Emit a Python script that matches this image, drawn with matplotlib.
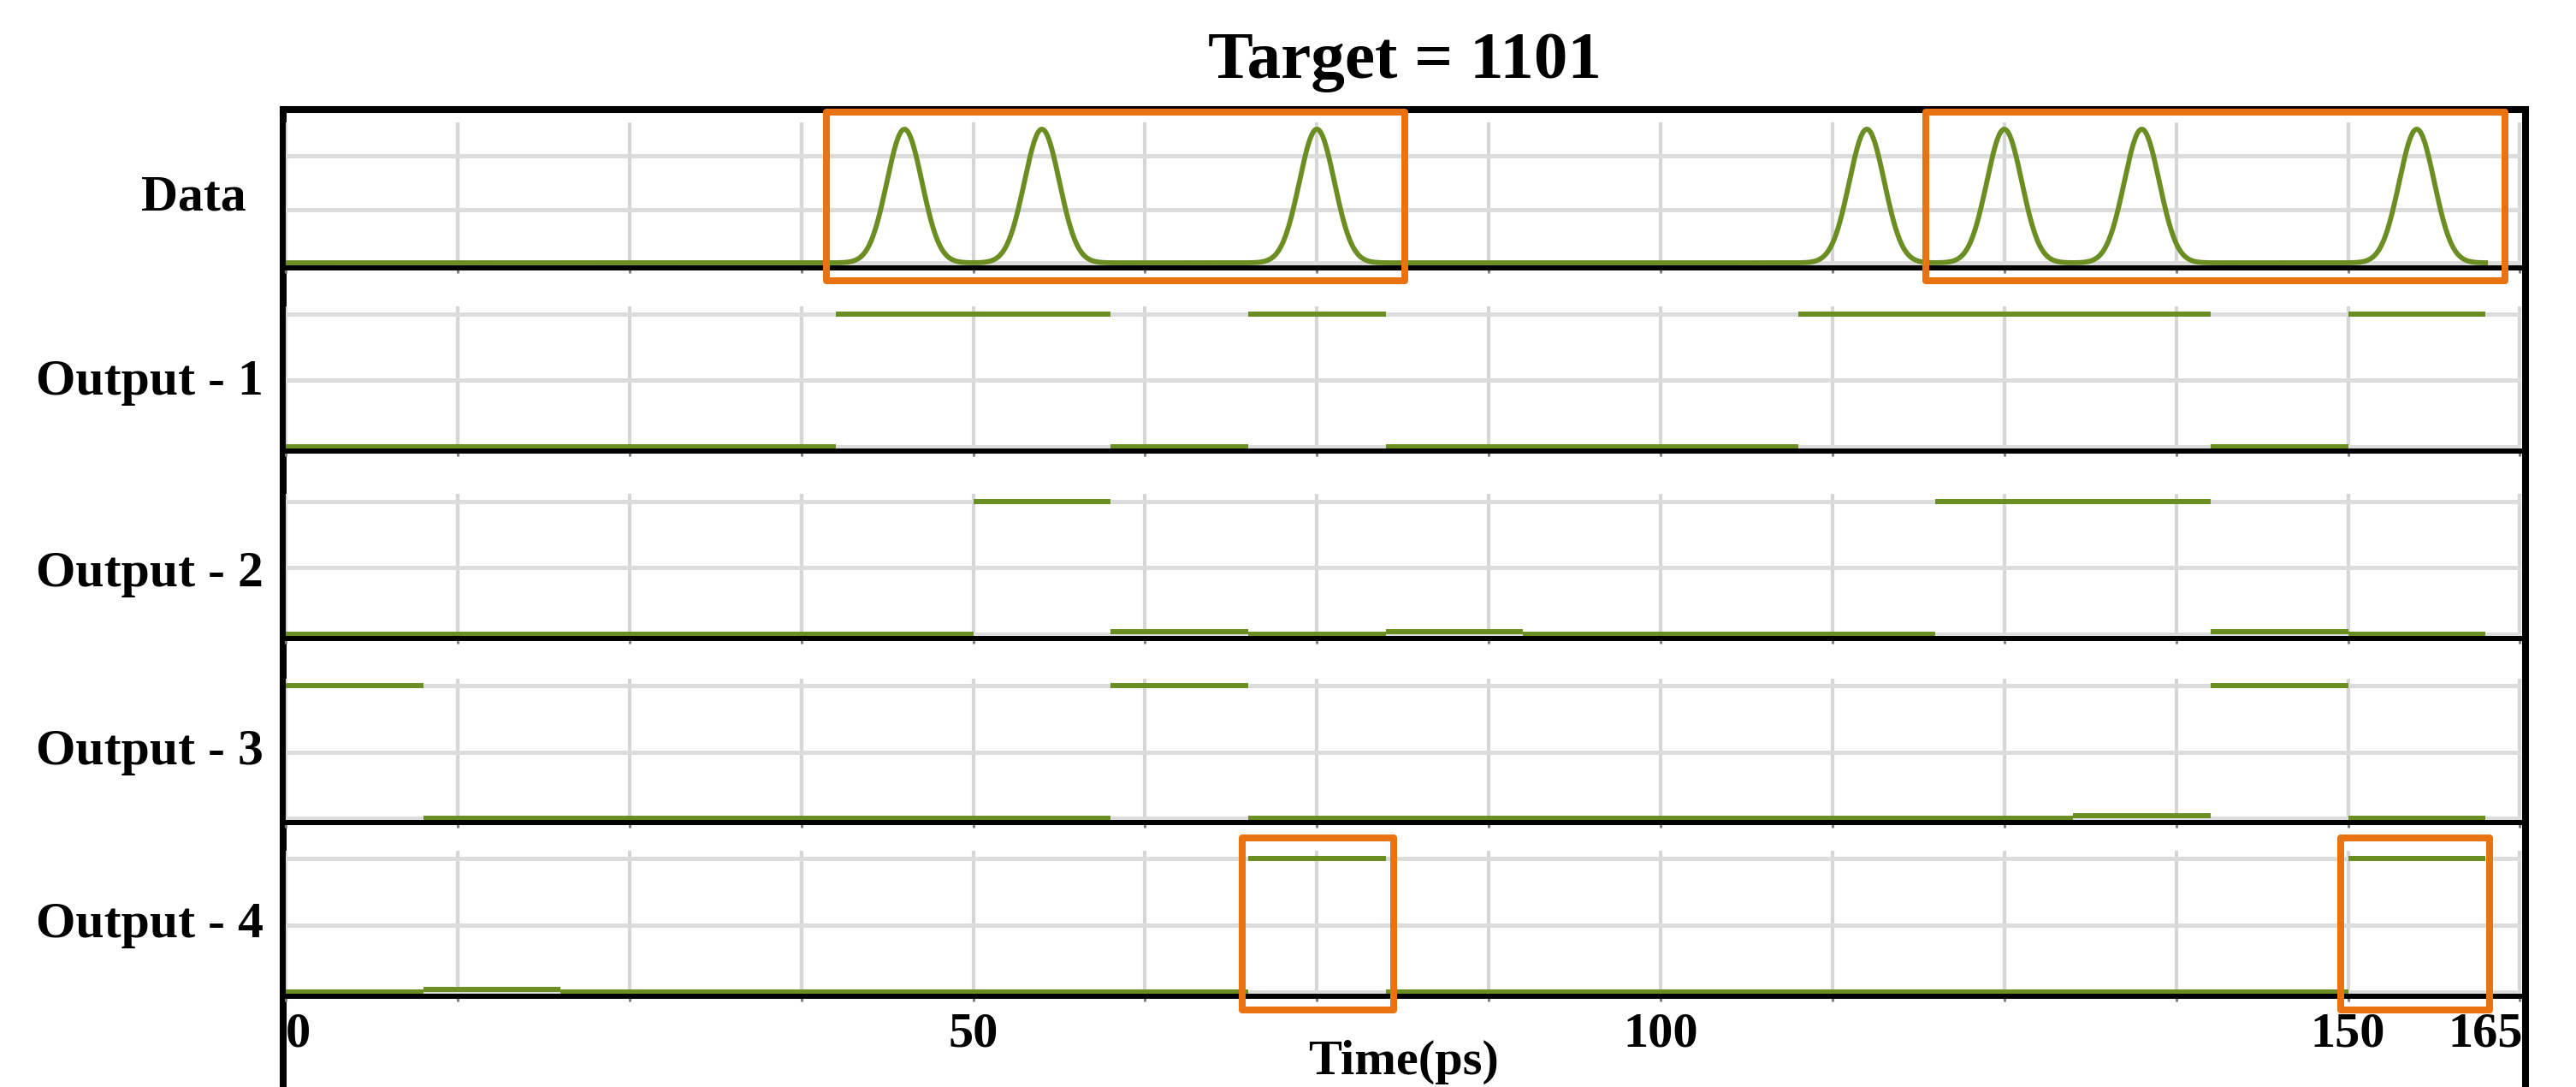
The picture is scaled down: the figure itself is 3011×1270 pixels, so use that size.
import numpy as np
import matplotlib
matplotlib.use('Agg')
import matplotlib.pyplot as plt
from matplotlib.patches import Rectangle
from matplotlib.ticker import MultipleLocator, FixedLocator

W, H = 3011, 1270
GREEN = '#6B8E23'
ORANGE = '#E97211'
FONT = 'Liberation Serif'

# ---- data ----
title = 'Target = 1101'
panel_names = ['Data', 'Output - 1', 'Output - 2', 'Output - 3', 'Output - 4']

# data pulses: centres in ps, all of height 1
pulse_times = [45, 55, 75, 115, 125, 135, 155]
pulse_fwhm = 3.0
data_end = 160

# outputs as (start ps, end ps, level)
out1 = [(0, 40, 0), (40, 60, 1), (60, 70, 0), (70, 80, 1),
        (80, 110, 0), (110, 140, 1), (140, 150, 0), (150, 160, 1)]
out2 = [(0, 50, 0), (50, 60, 1), (60, 70, 0.018), (70, 80, 0),
        (80, 90, 0.018), (90, 120, 0), (120, 140, 1), (140, 150, 0.018),
        (150, 160, 0)]
out3 = [(0, 10, 1), (10, 60, 0), (60, 70, 1), (70, 130, 0),
        (130, 140, 0.018), (140, 150, 1), (150, 160, 0)]
out4 = [(0, 10, 0), (10, 20, 0.018), (20, 70, 0), (70, 80, 1),
        (80, 150, 0), (150, 160, 1)]
outputs = [out1, out2, out3, out4]

tick_pos = [0, 50, 100, 150, 160]
tick_labels = ['0', '50', '100', '150', '165']
xlabel = 'Time(ps)'

# highlighted ranges (ps)
boxes_data = [(39.3, 81.4), (119.3, 161.4)]
boxes_out4 = [(69.6, 80.6), (149.5, 160.3)]

# ---- layout ----
fig = plt.figure(figsize=(W / 100, H / 100), dpi=100)


def px_axes(left, top, right, bottom):
    return fig.add_axes([left / W, 1 - bottom / H, (right - left) / W, (bottom - top) / H])


frame = px_axes(331, 128, 2952, H + 80)
frame.set_xticks([])
frame.set_yticks([])
frame.set_facecolor('none')
for s in ['left', 'top', 'right']:
    frame.spines[s].set_linewidth(5.8)
frame.spines['bottom'].set_visible(False)

panel_rows = [(143, 313), (358, 527), (577, 746), (793, 961), (994, 1164)]
label_pos = [(226, 232), (175, 447), (175, 671), (175, 879), (175, 1081)]

axes = []
for i, (top, bot) in enumerate(panel_rows):
    ax = px_axes(334, top, 2947, bot)
    ax.set_facecolor('none')
    ax.set_xlim(0, 162.6)
    if i == 0:
        ax.set_ylim(-0.038, 1.051)
        ax.yaxis.set_major_locator(FixedLocator([0, 0.4, 0.8]))
    else:
        ax.set_ylim(-0.035, 1.055)
        ax.yaxis.set_major_locator(FixedLocator([0, 0.5, 1.0]))
    ax.xaxis.remove_overlapping_locs = False
    ax.xaxis.set_major_locator(FixedLocator(tick_pos))
    ax.xaxis.set_minor_locator(MultipleLocator(12.5))
    ax.grid(which='minor', axis='x', color='#d6d6d6', lw=3.0)
    ax.grid(which='major', axis='y', color='#dcdcdc', lw=3.6)
    ax.tick_params(axis='y', length=0, labelleft=False)
    ax.tick_params(axis='x', which='major', length=0, pad=13,
                   labelbottom=(i == 4))
    ax.tick_params(axis='x', which='minor', length=4, width=2.2,
                   color='#808080', direction='out')
    for s in ['left', 'top', 'right']:
        ax.spines[s].set_visible(False)
    ax.spines['bottom'].set_linewidth(4.3)
    ax.spines['bottom'].set_color('black')
    fig.text(label_pos[i][0] / W, 1 - label_pos[i][1] / H, panel_names[i],
             ha='center', va='center', fontsize=43, fontweight='bold',
             family=FONT)
    axes.append(ax)

# data waveform
sigma = pulse_fwhm / 2.3548
t = np.linspace(0, data_end, 3201)
y = np.zeros_like(t)
for t0 in pulse_times:
    y += np.exp(-(t - t0) ** 2 / (2 * sigma ** 2))
axes[0].plot(t, y, color=GREEN, lw=4.2)

# outputs
for ax, segs in zip(axes[1:], outputs):
    for s, e, lvl in segs:
        ax.plot([s, e], [lvl, lvl], color=GREEN, lw=4.3, solid_capstyle='butt')

# x tick labels and label on the bottom panel
bottom_ax = axes[-1]
bottom_ax.set_xticklabels(tick_labels, fontsize=42, fontweight='bold', family=FONT)
bottom_ax.get_xticklabels()[0].set_ha('left')
bottom_ax.set_xlabel(xlabel, fontsize=42, fontweight='bold', family=FONT, va='center')
bottom_ax.xaxis.set_label_coords(0.5, -0.45)

# highlight boxes
for x0, x1 in boxes_data:
    axes[0].add_patch(Rectangle((x0, -0.135), x1 - x0, 1.128 + 0.135, fill=False,
                                ec=ORANGE, lw=5.8, clip_on=False, zorder=10,
                                joinstyle='round'))
for x0, x1 in boxes_out4:
    axes[4].add_patch(Rectangle((x0, -0.138), x1 - x0, 1.151 + 0.138, fill=False,
                                ec=ORANGE, lw=5.8, clip_on=False, zorder=10,
                                joinstyle='round'))

fig.text(1642 / W, 1 - 73 / H, title, ha='center', va='center', fontsize=57,
         fontweight='bold', family=FONT)

fig.savefig('out.png', dpi=100)
